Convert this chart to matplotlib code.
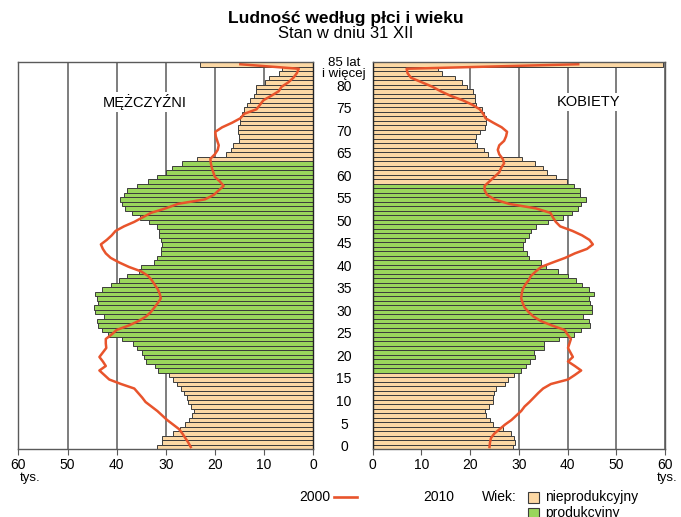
import matplotlib
matplotlib.use("Agg")
import matplotlib.pyplot as plt
import matplotlib.transforms as mtransforms
from matplotlib.patches import Rectangle
from matplotlib.lines import Line2D

plt.rcParams['font.family'] = ['Liberation Sans', 'DejaVu Sans']

ages = list(range(86))  # 85 = "85 lat i więcej"

men_2010 = [31.7, 30.8, 30.7, 28.6, 27.1, 26.0, 25.2, 24.6, 24.3, 24.9,
            25.5, 25.6, 26.3, 26.9, 27.8, 28.5, 29.3, 31.6, 32.2, 34.1,
            34.5, 34.8, 35.9, 36.6, 38.9, 41.8, 42.9, 43.8, 44.0, 42.5,
            44.4, 44.6, 43.7, 44.0, 44.4, 42.9, 41.2, 39.5, 37.8, 35.4,
            35.0, 32.4, 31.7, 30.9, 30.9, 30.7, 31.0, 31.4, 31.4, 31.7,
            33.5, 35.2, 36.8, 38.3, 39.0, 39.3, 38.5, 37.8, 35.9, 33.7,
            31.7, 30.0, 28.7, 26.6, 23.7, 17.8, 16.8, 16.3, 15.0, 15.0,
            15.3, 15.2, 14.9, 14.8, 14.5, 14.1, 13.5, 12.8, 12.1, 11.7,
            11.6, 9.8, 9.0, 7.0, 6.3, 23.1]

women_2010 = [28.9, 29.3, 29.1, 28.4, 26.7, 24.8, 24.1, 23.3, 23.1, 23.8,
              24.8, 24.7, 25.0, 25.4, 27.1, 27.8, 29.1, 30.4, 31.5, 32.4,
              33.4, 33.1, 35.1, 35.1, 38.2, 41.3, 42.8, 44.7, 44.4, 43.1,
              45.0, 45.0, 44.7, 44.5, 45.4, 44.4, 42.9, 41.8, 40.2, 38.0,
              35.6, 34.5, 32.0, 31.7, 30.8, 30.8, 31.3, 32.2, 32.5, 33.6,
              36.0, 39.0, 40.9, 42.2, 42.8, 43.8, 42.6, 42.5, 41.3, 39.8,
              37.7, 35.8, 34.9, 33.4, 30.7, 23.7, 22.8, 21.5, 21.0, 21.2,
              22.0, 23.0, 23.3, 23.3, 22.8, 22.4, 21.3, 21.0, 21.0, 20.7,
              19.3, 18.3, 16.9, 14.2, 13.5, 59.5]

men_2000 = [24.9, 25.4, 26.0, 26.6, 27.3, 28.5, 29.7, 30.7, 31.7, 32.9,
            34.1, 34.8, 35.6, 36.4, 39.1, 41.5, 42.5, 43.5, 42.2, 42.8,
            43.5, 42.8, 42.1, 42.2, 42.2, 41.0, 40.0, 37.5, 35.5, 34.0,
            33.0, 32.3, 31.6, 31.0, 31.2, 31.6, 32.2, 32.8, 33.6, 35.0,
            37.5, 39.5, 41.2, 42.2, 42.8, 43.2, 42.0, 41.0, 40.2, 38.5,
            36.4, 34.7, 33.0, 30.0, 27.5, 22.0, 20.2, 19.2, 18.2, 19.0,
            20.0, 20.3, 20.6, 20.8, 20.9, 20.0, 19.4, 19.2, 19.5, 19.8,
            19.9, 18.5, 16.5, 14.8, 14.0, 11.5, 10.8, 10.1, 8.5, 7.0,
            6.4, 5.0, 4.0, 3.3, 2.9, 14.8]

women_2000 = [24.0, 24.1, 24.3, 25.0, 26.1, 27.2, 28.5, 29.5, 30.5, 31.2,
              32.2, 33.1, 34.0, 35.0, 36.6, 40.1, 41.5, 42.8, 41.5, 40.1,
              41.1, 40.6, 40.1, 40.4, 40.7, 40.0, 39.4, 36.8, 34.5, 33.0,
              32.0, 31.2, 30.8, 30.5, 30.6, 30.8, 31.3, 32.0, 32.5, 33.5,
              34.6, 37.0, 39.5, 41.5, 44.0, 45.2, 44.5, 43.0, 41.0, 38.5,
              37.6, 37.0, 36.5, 33.5, 28.0, 25.0, 23.5, 23.0, 23.0, 24.0,
              25.0, 26.0, 26.4, 27.0, 26.7, 26.0, 25.7, 26.0, 27.0, 27.4,
              27.6, 26.5, 24.8, 23.2, 22.7, 22.0, 20.5, 18.5, 16.0, 14.0,
              12.3, 10.1, 7.9, 7.2, 7.0, 42.2]

men_productive = (17, 63)
women_productive = (17, 58)

xticks = [0, 10, 20, 30, 40, 50, 60]
age_labels = {0: "0", 5: "5", 10: "10", 15: "15", 20: "20", 25: "25", 30: "30",
              35: "35", 40: "40", 45: "45", 50: "50", 55: "55", 60: "60",
              65: "65", 70: "70", 75: "75", 80: "80"}
top_label_lines = ["85 lat", "i więcej"]

BEIGE = '#FCD8A4'
GREEN = '#9AD65C'
RED = '#E8542C'
EDGE = '#3c3c3c'
GRID = '#5a5a5a'

W, H = 681, 517
fig = plt.figure(figsize=(W / 100, H / 100), dpi=100)

def px_axes(x0, x1, y0, y1):
    return fig.add_axes([x0 / W, 1 - y1 / H, (x1 - x0) / W, (y1 - y0) / H])

axL = px_axes(18.4, 313.0, 62.0, 449.3)
axR = px_axes(372.5, 665.0, 62.0, 449.3)

def colors_for(rng):
    return [GREEN if rng[0] <= a <= rng[1] else BEIGE for a in ages]

for ax, vals, v2000, rng in ((axL, men_2010, men_2000, men_productive),
                             (axR, women_2010, women_2000, women_productive)):
    ax.barh(ages, vals, height=1.0, color=colors_for(rng), edgecolor=EDGE,
            linewidth=0.7, zorder=2)
    ax.plot(v2000, ages, color=RED, lw=1.8, zorder=3, solid_joinstyle='round')
    ax.set_ylim(-0.5, 85.5)
    ax.set_yticks([])
    ax.set_xticks(xticks)
    ax.set_xticklabels([str(t) for t in xticks], fontsize=10)
    ax.tick_params(axis='x', direction='out', length=4, width=0.8, color=GRID, pad=2)
    for t in xticks:
        ax.axvline(t, color=GRID, lw=1.1, zorder=1)
    for s in ('top', 'bottom', 'left', 'right'):
        ax.spines[s].set_color(GRID)
        ax.spines[s].set_linewidth(1.0)

axL.set_xlim(60, 0)
axR.set_xlim(0, 60)
axL.spines['right'].set_color('#222222')
axR.spines['left'].set_color('#222222')
for ax in (axL, axR):
    ax.spines['top'].set_zorder(4)

axL.text(145 / W, 1 - 102 / H, "MĘŻCZYŹNI", transform=fig.transFigure,
         ha='center', va='center', fontsize=10.5,
         bbox=dict(facecolor='white', edgecolor='none', pad=1.5), zorder=5)
axR.text(589 / W, 1 - 102 / H, "KOBIETY", transform=fig.transFigure,
         ha='center', va='center', fontsize=10.5,
         bbox=dict(facecolor='white', edgecolor='none', pad=1.5), zorder=5)

# age labels in the centre
trans = mtransforms.blended_transform_factory(fig.transFigure, axR.transData)
cx = 344 / W
for a, lab in age_labels.items():
    fig.text(cx, a, lab, transform=trans, ha='center', va='center', fontsize=10)
fig.text(cx, 1 - 63 / H, top_label_lines[0], ha='center', va='center', fontsize=9.5)
fig.text(cx, 1 - 74 / H, top_label_lines[1], ha='center', va='center', fontsize=9.5)

# unit labels
fig.text(20 / W, 1 - 478 / H, "tys.", ha='left', va='center', fontsize=9.5)
fig.text(657 / W, 1 - 478 / H, "tys.", ha='left', va='center', fontsize=9.5)

# titles
fig.text(346 / W, 1 - 18 / H, "Ludność według płci i wieku", ha='center',
         va='center', fontsize=12.5, fontweight='bold')
fig.text(346 / W, 1 - 34 / H, "Stan w dniu 31 XII", ha='center',
         va='center', fontsize=12)

# legend
ly = 1 - 497 / H
fig.text(330 / W, ly, "2000", ha='right', va='center', fontsize=10)
fig.add_artist(Line2D([334 / W, 357 / W], [ly, ly], color=RED, lw=1.9,
                      transform=fig.transFigure))
fig.text(423 / W, ly, "2010", ha='left', va='center', fontsize=10)
fig.text(482 / W, ly, "Wiek:", ha='left', va='center', fontsize=10)
for i, (col, lab) in enumerate(((BEIGE, "nieprodukcyjny"), (GREEN, "produkcyjny"))):
    yy = 497 + i * 16
    fig.add_artist(Rectangle((528 / W, 1 - (yy + 6) / H), 11 / W, 11 / H,
                             facecolor=col, edgecolor=EDGE, lw=0.8,
                             transform=fig.transFigure))
    fig.text(545 / W, 1 - yy / H, lab, ha='left', va='center', fontsize=10)

fig.savefig("out.png", dpi=100)
